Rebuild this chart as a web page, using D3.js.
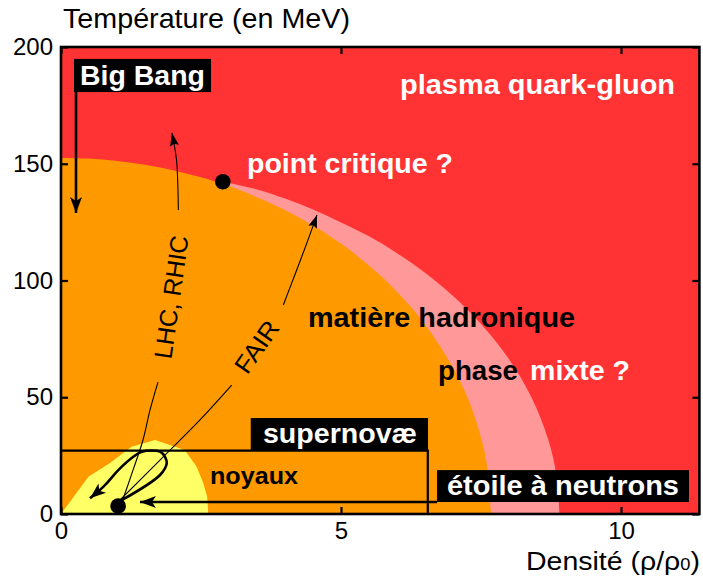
<!DOCTYPE html>
<html><head><meta charset="utf-8">
<script src="https://cdn.jsdelivr.net/npm/d3@7"></script>
<style>body{margin:0;background:#fff}svg{display:block}text{font-family:"Liberation Sans",Arial,sans-serif}</style>
</head><body><svg id="c" width="703" height="577"></svg>
<script>
// ---------- data (density ρ/ρ0, temperature MeV) ----------
const xTicks = [0, 5, 10];
const yTicks = [0, 50, 100, 150, 200];
const hadronBoundary = [[0,152.5],[0.5,152.2],[1,151.2],[1.5,149.6],[2,147.2],[2.5,144.2],[2.9,141.3],[3.5,135.7],[4,130.2],[4.5,123.6],[5,115.8],[5.5,106.4],[6,95.2],[6.5,81.2],[7,62.7],[7.3,47.4],[7.5,32.8],[7.6,22],[7.68,0]];
const mixedBoundary = [[2.89,142.3],[3.5,139],[4,135.1],[4.5,130.4],[5,124.8],[5.5,118.9],[6,111.7],[6.5,103.3],[7,93.4],[7.5,81.4],[8,66.3],[8.4,50],[8.7,31.9],[8.85,16],[8.9,0]];
const nucleiBoundary = [[0,0],[0.49,16],[0.875,21.8],[1.26,28.8],[1.68,31.7],[2.21,27.4],[2.42,20.3],[2.54,13.3],[2.61,7.4],[2.63,0]];
const criticalPoint = [2.89, 142.3];
const nucleiPoint = [1.02, 3.4];
const supernovaLimit = [[0,27.1],[6.55,27.1],[6.55,0]];
const neutronStarPath = [[6.714,5.14],[1.41,5.14]];
const bigBangPath = [[0.268,180.7],[0.268,128.9]];
const lhcLower = [[1.071,3.85],[1.286,18.8],[1.464,31.7],[1.589,44.5],[1.732,56.5]];
const lhcUpper = [[2.095,130.2],[2.086,140.9],[2.063,151.6],[1.982,163.2]];
const fairLower = [[1.054,6],[1.768,23.1],[2.482,40.3],[3.048,55.2]];
const fairUpper = [[3.97,89.5],[4.209,104.5],[4.388,115.9],[4.571,128.1]];
const loopPath = [[1.089,6],[1.768,16.7],[1.888,21.7],[1.857,24.5],[1.768,26.7],[1.441,26.7],[1.291,24.5],[1.023,18.8],[0.786,12.4],[0.518,6.7]];
// label boxes [x0, yTop, x1, yBottom] in data units
const boxBigBang = [0.232,194.9,2.679,180.7];
const boxSupernova = [3.388,41.1,6.554,27.0];
const boxNeutron = [6.714,18.8,11.214,5.14];

// ---------- layout ----------
const svg = d3.select("#c");
const x = d3.scaleLinear().domain([0, 11.4]).range([61, 61 + 11.4 * 56]);
const y = d3.scaleLinear().domain([0, 200]).range([514, 47]);
const RED = "#ff3333", ORANGE = "#ff9900", PINK = "#ff9999", YELLOW = "#ffff66";

const defs = svg.append("defs");
defs.append("clipPath").attr("id","plot").append("rect")
  .attr("x", x(0)).attr("y", y(200)).attr("width", x(11.4)-x(0)).attr("height", y(0)-y(200));
function marker(id, d) {
  defs.append("marker").attr("id", id).attr("markerUnits","userSpaceOnUse")
    .attr("viewBox","-20 -10 22 20").attr("refX",0).attr("refY",0)
    .attr("markerWidth",22).attr("markerHeight",20).attr("orient","auto")
    .append("path").attr("d", d).attr("fill","#000");
}
marker("thick", "M0,0 L-16,-6 L-12,0 L-16,6 Z");
marker("thin", "M0,0 L-13,-4.5 L-11,0 L-13,4.5 Z");

const g = svg.append("g").attr("clip-path","url(#plot)");
g.append("rect").attr("x", x(0)).attr("y", y(200)).attr("width", x(11.4)-x(0)).attr("height", y(0)-y(200)).attr("fill", RED);

const curve = d3.line().x(d => x(d[0])).y(d => y(d[1])).curve(d3.curveCatmullRom);
const lin = d3.line().x(d => x(d[0])).y(d => y(d[1]));

// mixed phase band
g.append("path").attr("fill", PINK)
  .attr("d", curve(mixedBoundary) + `L${x(0)},${y(0)}L${x(0)},${y(criticalPoint[1])}Z`);
// hadronic matter
g.append("path").attr("fill", ORANGE)
  .attr("d", `M${x(0)},${y(0)}` + curve(hadronBoundary).replace(/^M/, "L") + "Z");
// nuclei
g.append("path").attr("fill", YELLOW).attr("d", lin(nucleiBoundary) + "Z");

// supernova limit
g.append("path").attr("d", lin(supernovaLimit)).attr("fill","none").attr("stroke","#000").attr("stroke-width",2.2);

// thin arrows
const thinStyle = s => s.attr("fill","none").attr("stroke","#000").attr("stroke-width",1.1);
g.append("path").attr("d", curve(lhcLower)).call(thinStyle);
g.append("path").attr("d", curve(lhcUpper)).call(thinStyle).attr("marker-end","url(#thin)");
g.append("path").attr("d", curve(fairLower)).call(thinStyle);
g.append("path").attr("d", curve(fairUpper)).call(thinStyle).attr("marker-end","url(#thin)");

// thick arrows
const thickStyle = s => s.attr("fill","none").attr("stroke","#000").attr("stroke-width",2.6).attr("stroke-linejoin","round");
g.append("path").attr("d", curve(loopPath)).call(thickStyle).attr("marker-end","url(#thick)");
g.append("path").attr("d", lin(neutronStarPath)).call(thickStyle).attr("marker-end","url(#thick)");
g.append("path").attr("d", lin(bigBangPath)).call(thickStyle).attr("marker-end","url(#thick)");

// points
[criticalPoint, nucleiPoint].forEach(p => {
  g.append("circle").attr("cx", x(p[0])).attr("cy", y(p[1])).attr("r", 7.8).attr("fill","#000");
});

// boxes
[boxBigBang, boxSupernova, boxNeutron].forEach(b => {
  g.append("rect").attr("x", x(b[0])).attr("y", y(b[1])).attr("width", x(b[2])-x(b[0])).attr("height", y(b[3])-y(b[1])).attr("fill","#000");
});

// labels
function label(t, dx, dy, len, fill, size, weight) {
  g.append("text").attr("x", x(dx)).attr("y", y(dy)).text(t)
    .attr("fill", fill).attr("font-size", size).attr("font-weight", weight || "bold")
    .attr("textLength", len).attr("lengthAdjust","spacingAndGlyphs");
}
label("Big Bang", 0.339, 183.7, 125, "#fff", 27);
label("plasma quark-gluon", 6.054, 179.9, 275, "#fff", 27);
label("point critique ?", 3.321, 146.0, 206, "#fff", 27);
label("matière hadronique", 4.411, 80.1, 267, "#000", 27);
label("phase", 6.732, 57.4, 80, "#000", 27);
label("mixte ?", 8.375, 57.4, 100, "#fff", 27);
label("supernovæ", 3.607, 30.4, 154, "#fff", 27);
label("étoile à neutrons", 6.893, 8.1, 232, "#fff", 27);
label("noyaux", 2.661, 12.8, 88, "#000", 23);

function rotLabel(t, cx, cy, ang, len) {
  g.append("text").attr("transform", `translate(${x(cx)},${y(cy)}) rotate(${ang})`)
    .attr("text-anchor","middle").attr("dy","0.35em").attr("font-size", 25)
    .attr("textLength", len).attr("lengthAdjust","spacingAndGlyphs").text(t);
}
rotLabel("LHC, RHIC", 1.97, 92.9, -82, 124);
rotLabel("FAIR", 3.495, 71.6, -55, 58);

// axes
const ax = (gen, tx, ty) => {
  const a = svg.append("g").attr("transform", `translate(${tx},${ty})`).call(gen);
  a.select(".domain").remove();
  a.selectAll("line").attr("stroke","#000").attr("stroke-width",2.2);
  a.selectAll("text").attr("font-size", 24).attr("fill","#000").attr("font-family","'Liberation Sans',Arial,sans-serif");
  return a;
};
ax(d3.axisLeft(y).tickValues(yTicks).tickSize(-7).tickPadding(8).tickFormat(d3.format("d")), x(0), 0);
ax(d3.axisBottom(x).tickValues(xTicks).tickSize(-7).tickPadding(8).tickFormat(d3.format("d")), 0, y(0));
ax(d3.axisTop(x).tickValues(xTicks).tickSize(-7).tickFormat(""), 0, y(200));
ax(d3.axisRight(y).tickValues(yTicks).tickSize(-7).tickFormat(""), x(11.4), 0);

// frame
svg.append("rect").attr("x", x(0)).attr("y", y(200)).attr("width", x(11.4)-x(0)).attr("height", y(0)-y(200))
  .attr("fill","none").attr("stroke","#000").attr("stroke-width",2.6);

// axis titles
svg.append("text").attr("x", 63).attr("y", 28).attr("font-size", 27.5)
  .attr("textLength", 287).attr("lengthAdjust","spacingAndGlyphs").text("Température (en MeV)");
const xt = svg.append("text").attr("x", 700).attr("y", 570).attr("font-size", 26.5).attr("text-anchor","end");
xt.append("tspan").text("Densité (ρ/ρ");
xt.append("tspan").attr("font-size", 17).text("0");
xt.append("tspan").text(")");
xt.attr("textLength", 174).attr("lengthAdjust","spacingAndGlyphs");
</script></body></html>
